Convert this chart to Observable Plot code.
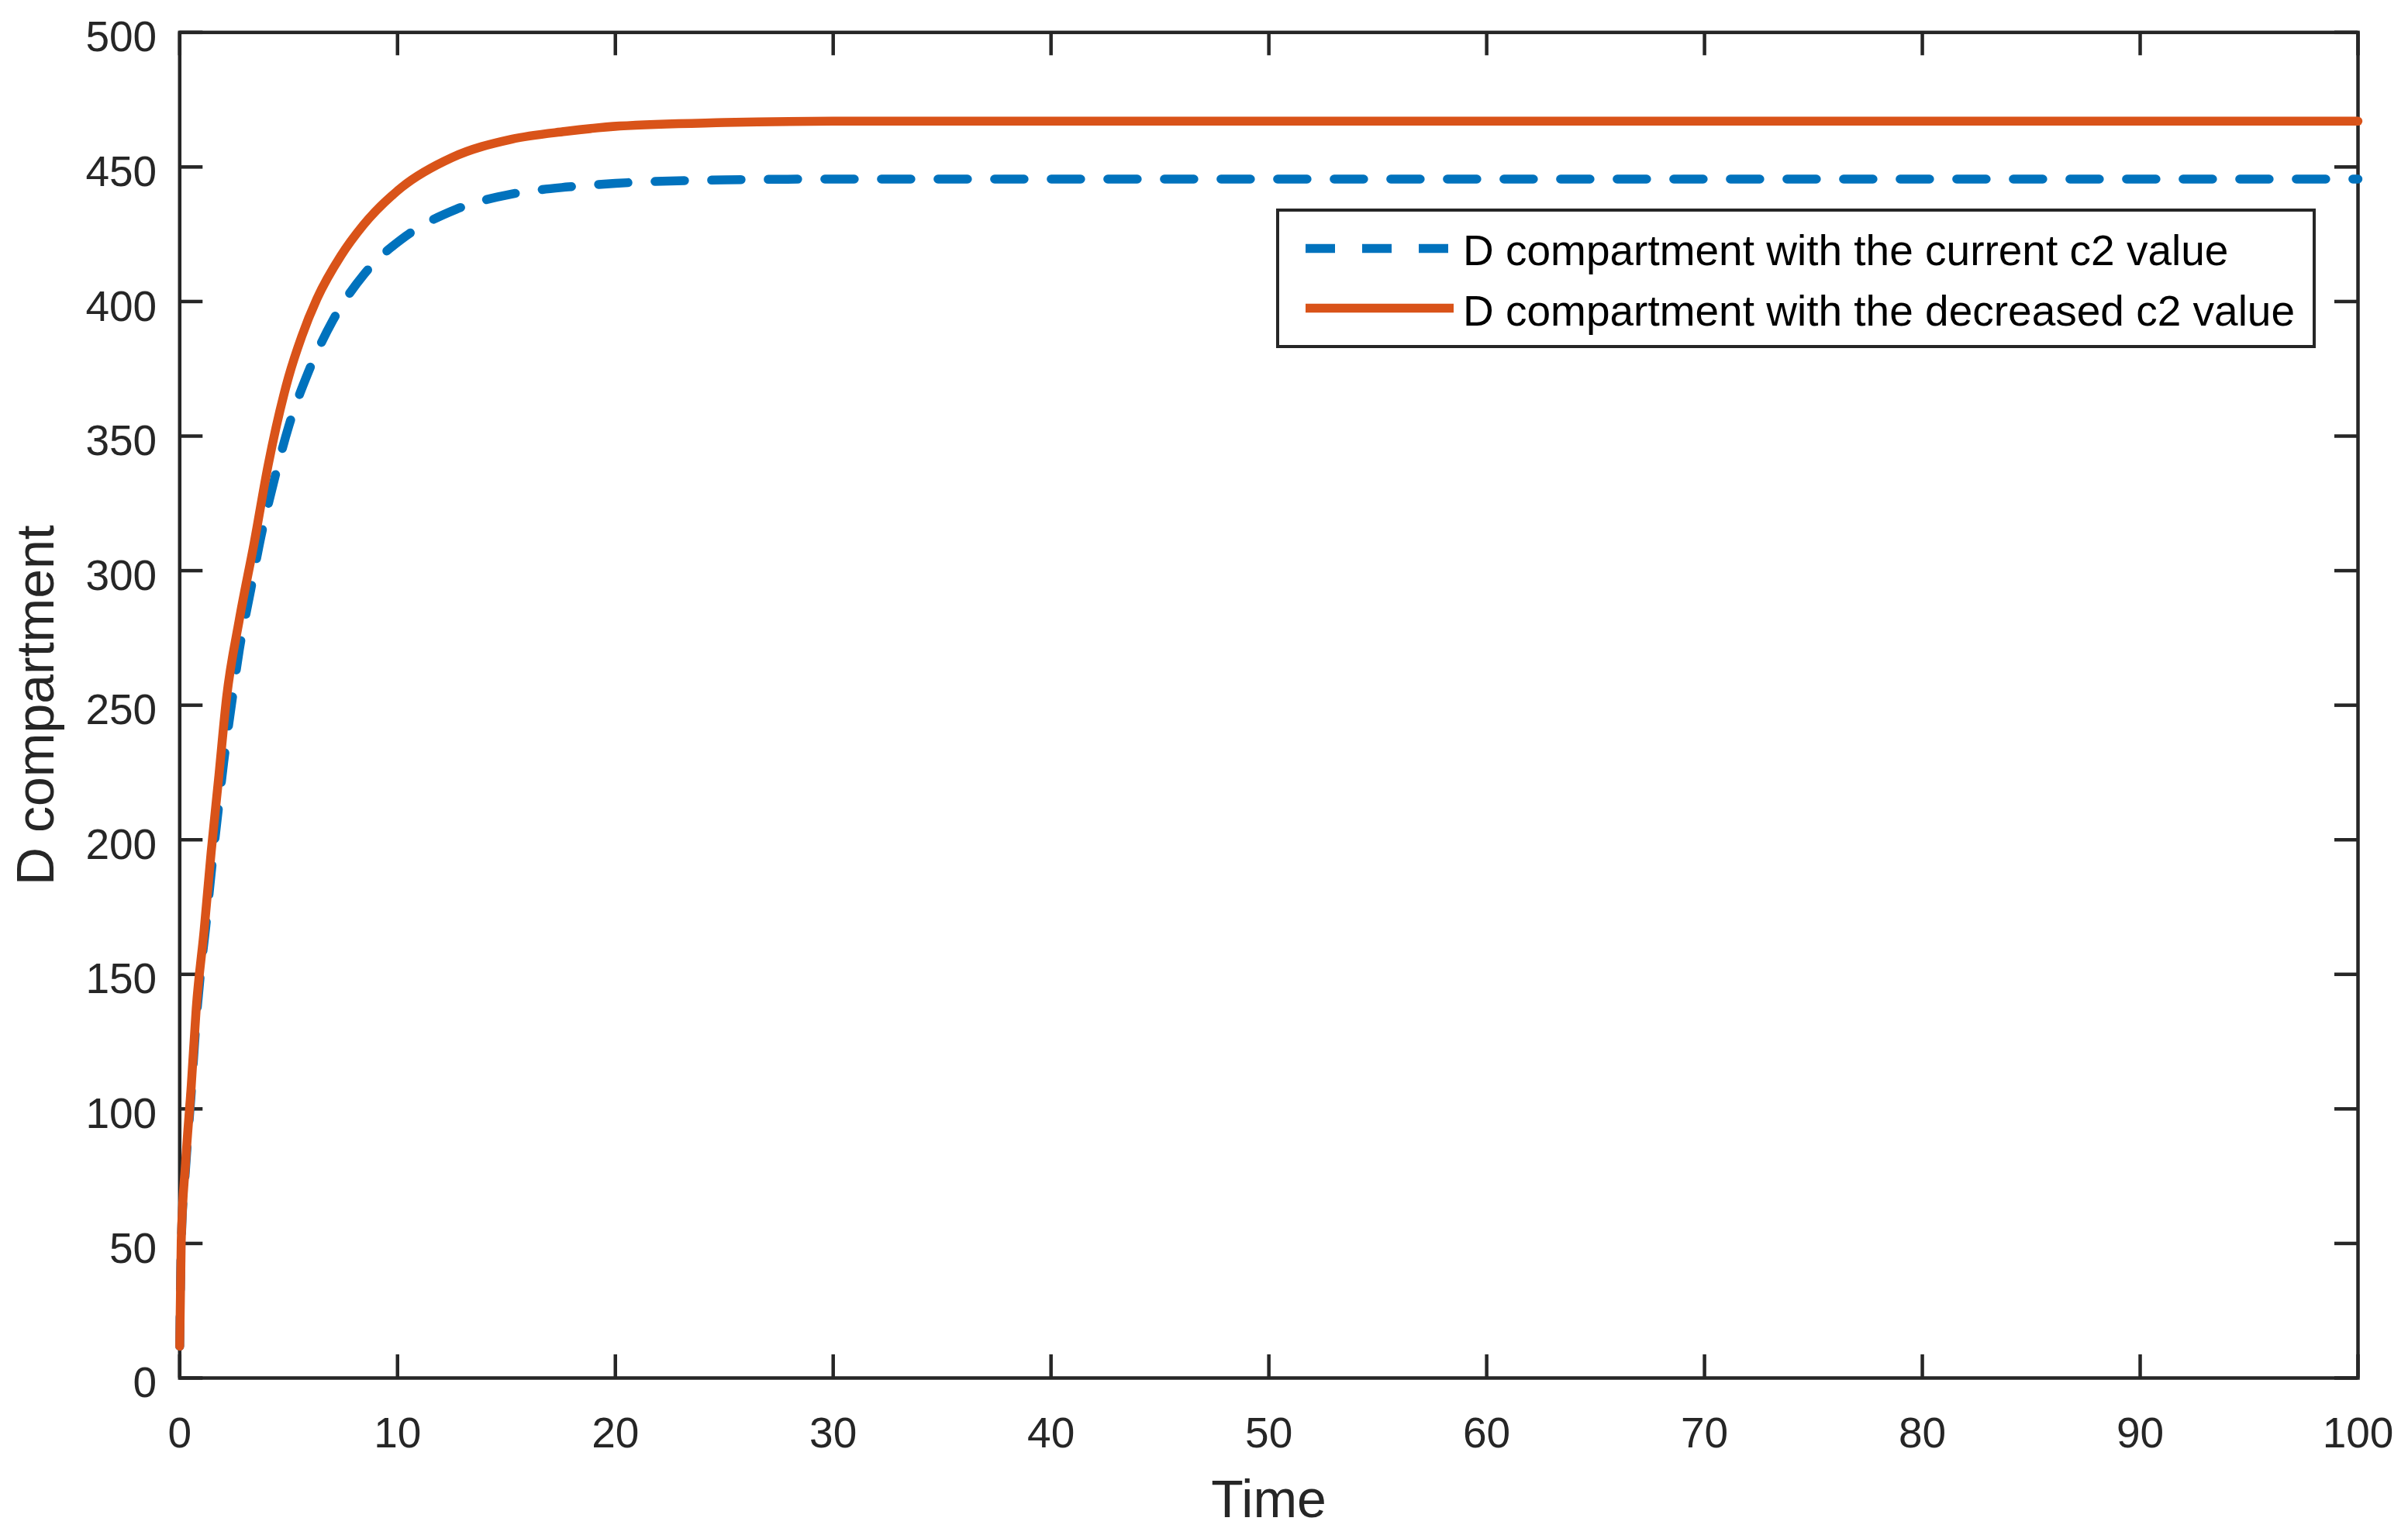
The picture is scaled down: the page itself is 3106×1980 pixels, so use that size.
<!DOCTYPE html>
<html>
<head>
<meta charset="utf-8">
<script src="https://cdn.jsdelivr.net/npm/d3@7"></script>
<script src="https://cdn.jsdelivr.net/npm/@observablehq/plot@0.6"></script>
<style>
  html, body { margin: 0; padding: 0; background: #ffffff; }
  #wrap { position: relative; width: 3106px; height: 1980px; font-family: "Liberation Sans", Arial, Helvetica, sans-serif; }
</style>
</head>
<body>
<div id="wrap"></div>
<script>
// ---- data ----
const timeCurrent = [0, 0.07, 0.27, 0.53, 0.76, 0.95, 1.2, 1.43, 1.72, 2.02, 2.37, 2.74, 3.23, 3.73, 4.33, 5.01, 5.90, 7.03, 8.49, 10.4, 12.7, 15.23, 17.84, 20.0, 25, 30, 40, 50, 60, 70, 80, 90, 100];
const dCurrent    = [11.8, 50, 78, 106, 133, 150, 168, 186.5, 207.6, 228.9, 249.9, 270.8, 291.6, 312.7, 333.4, 353.8, 373.7, 393.0, 410.4, 424.4, 434.3, 439.9, 442.6, 443.9, 445.2, 445.5, 445.5, 445.5, 445.5, 445.5, 445.5, 445.5, 445.5];

const timeDecreased = [0, 0.07, 0.27, 0.53, 0.76, 1.12, 1.44, 1.80, 2.15, 2.73, 3.42, 4.06, 5.0, 5.6, 6.3, 7.4, 8.42, 10.2, 12.5, 15.23, 17.7, 20.2, 25, 30, 40, 50, 60, 70, 80, 90, 100];
const dDecreased    = [11.8, 51, 80, 108.6, 137.5, 166.3, 195.1, 223.9, 252.7, 281.5, 310.4, 339.2, 372, 387, 401, 417, 428.3, 442.5, 453.5, 460.3, 463.2, 465.2, 466.5, 467, 467, 467, 467, 467, 467, 467, 467];

const seriesNames = ["D compartment with the current c2 value", "D compartment with the decreased c2 value"];
const seriesColors = ["#0072BD", "#D95319"];
const xTicks = [0, 10, 20, 30, 40, 50, 60, 70, 80, 90, 100];
const yTicks = [0, 50, 100, 150, 200, 250, 300, 350, 400, 450, 500];
const xLabel = "Time";
const yLabel = "D compartment";

// ---- build tables ----
const current = timeCurrent.map((t, i) => ({t, v: dCurrent[i]}));
const decreased = timeDecreased.map((t, i) => ({t, v: dDecreased[i]}));

const W = 3106, H = 1980;
const mL = 231.3, mR = 65, mT = 41.3, mB = 203;
const innerW = W - mL - mR, innerH = H - mT - mB;
const axisColor = "#262626";
const tickLen = 30;
const axisSW = 4.5;
const fontFam = "'Liberation Sans', Arial, Helvetica, sans-serif";

const chart = Plot.plot({
  width: W,
  height: H,
  marginLeft: mL,
  marginRight: mR,
  marginTop: mT,
  marginBottom: mB,
  x: {domain: [0, 100], axis: null},
  y: {domain: [0, 500], axis: null},
  style: {fontFamily: fontFam, background: "#ffffff", color: axisColor, overflow: "visible"},
  marks: [
    Plot.frame({stroke: axisColor, strokeWidth: axisSW}),
    // inward ticks on all four sides
    Plot.ruleX(xTicks, {x: d => d, insetTop: innerH - tickLen, stroke: axisColor, strokeWidth: axisSW}),
    Plot.ruleX(xTicks, {x: d => d, insetBottom: innerH - tickLen, stroke: axisColor, strokeWidth: axisSW}),
    Plot.ruleY(yTicks, {y: d => d, insetRight: innerW - tickLen, stroke: axisColor, strokeWidth: axisSW}),
    Plot.ruleY(yTicks, {y: d => d, insetLeft: innerW - tickLen, stroke: axisColor, strokeWidth: axisSW}),
    // tick labels
    Plot.text(xTicks, {x: d => d, text: d => String(d), frameAnchor: "bottom", lineAnchor: "top", dy: 50, fontSize: 55, fill: axisColor}),
    Plot.text(yTicks, {y: d => d, text: d => String(d), frameAnchor: "left", textAnchor: "end", lineAnchor: "middle", dx: -29.6, dy: 7, fontSize: 55, fill: axisColor}),
    // axis titles
    Plot.text([xLabel], {text: d => d, frameAnchor: "bottom", textAnchor: "middle", lineAnchor: "middle", dy: 158, fontSize: 68, fill: axisColor}),
    Plot.text([yLabel], {text: d => d, frameAnchor: "left", textAnchor: "middle", lineAnchor: "middle", rotate: -90, dx: -185, fontSize: 68, fill: axisColor}),
    // series
    Plot.line(current, {x: "t", y: "v", stroke: seriesColors[0], strokeWidth: 11.5, strokeDasharray: "38,35", curve: "monotone-x", strokeLinejoin: "round"}),
    Plot.line(decreased, {x: "t", y: "v", stroke: seriesColors[1], strokeWidth: 11.5, curve: "monotone-x", strokeLinejoin: "round"})
  ]
});

const wrap = document.getElementById("wrap");
wrap.appendChild(chart);

// ---- legend (inside the axes, top right) ----
const lg = d3.create("svg")
  .attr("width", 1341)
  .attr("height", 180)
  .style("position", "absolute")
  .style("left", "1646px")
  .style("top", "269px");
lg.append("rect").attr("x", 2).attr("y", 2).attr("width", 1337).attr("height", 176)
  .attr("fill", "#ffffff").attr("stroke", axisColor).attr("stroke-width", 4);
const rowsY = [51.5, 128.5];
const baseY = [72.7, 151];
seriesNames.forEach((name, i) => {
  lg.append("line").attr("x1", 38).attr("x2", 229).attr("y1", rowsY[i]).attr("y2", rowsY[i])
    .attr("stroke", seriesColors[i]).attr("stroke-width", 11.5)
    .attr("stroke-dasharray", i === 0 ? "38,35" : null);
  lg.append("text").attr("x", 241).attr("y", baseY[i])
    .attr("font-family", fontFam)
    .attr("font-size", 55).attr("fill", "#000000").text(name);
});
wrap.appendChild(lg.node());
</script>
</body>
</html>
